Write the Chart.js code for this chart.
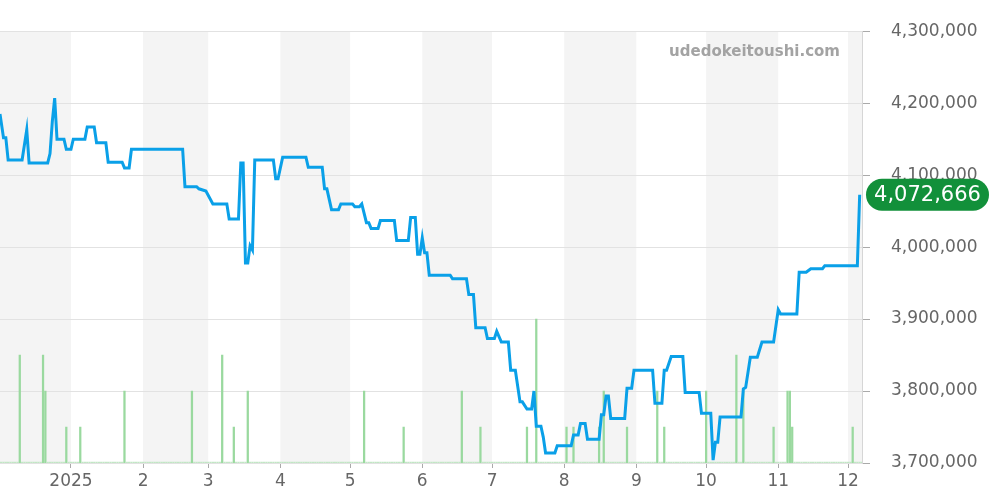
<!DOCTYPE html>
<html>
<head>
<meta charset="utf-8">
<script src="https://cdn.jsdelivr.net/npm/chart.js@4.4.1/dist/chart.umd.min.js"></script>
<style>
  html, body { margin: 0; padding: 0; background: #fff; }
  #wrap { width: 1000px; height: 500px; position: relative; }
</style>
</head>
<body>
<div id="wrap"><canvas id="priceChart"></canvas></div>
<script>
// days counted from 2025-01-01 (day 0)
const priceDays = [-30.5, -29, -28, -27, -21, -19, -18, -10, -9, -8, -7, -6, -3, -2, 0, 1, 6, 7, 10, 11, 15, 16, 22, 23, 25, 26,
  48, 49, 54, 55, 58, 61, 67, 68, 72, 73, 74, 75, 76, 77, 78, 79, 87, 88, 89, 91, 101, 102, 108, 109, 110, 112, 115, 116,
  121, 122, 124, 125, 127, 128, 129, 132, 133, 139, 140, 145, 146, 148, 149, 150, 151, 152, 153, 154, 163, 164, 170, 171,
  173, 174, 178, 179, 182, 183, 185, 188, 189, 191, 193, 194, 196, 198, 199, 200, 202, 203, 204, 208, 209, 215, 216, 218,
  219, 221, 222, 227, 228, 229, 230, 231, 232, 238, 239, 241, 242, 250, 251, 254, 255, 256, 258, 263, 264, 270, 271, 275,
  276, 277, 278, 279, 288, 289, 290, 292, 295, 297, 302, 304, 305, 312, 313, 316, 318, 323, 324, 338, 339];
const priceValues = [4185000, 4152000, 4152000, 4121000, 4121000, 4163000, 4117000, 4117000, 4130000, 4175000, 4207000, 4150000,
  4150000, 4136000, 4136000, 4150000, 4150000, 4167000, 4167000, 4145000, 4145000, 4118000, 4118000, 4110000, 4110000, 4136000,
  4136000, 4084000, 4084000, 4081000, 4078000, 4060000, 4060000, 4039000, 4039000, 4117000, 4117000, 3978000, 3978000, 4002000,
  3996000, 4121000, 4121000, 4095000, 4095000, 4125000, 4125000, 4111000, 4111000, 4081000, 4081000, 4052000, 4052000, 4060000,
  4060000, 4056000, 4056000, 4060000, 4034000, 4034000, 4026000, 4026000, 4037000, 4037000, 4009000, 4009000, 4041000, 4041000,
  3990000, 3990000, 4013000, 3992000, 3992000, 3961000, 3961000, 3956000, 3956000, 3934000, 3934000, 3888000, 3888000, 3873000,
  3873000, 3883000, 3868000, 3868000, 3829000, 3829000, 3785000, 3785000, 3775000, 3775000, 3800000, 3751000, 3751000, 3736000,
  3714000, 3714000, 3724000, 3724000, 3739000, 3739000, 3755000, 3755000, 3733000, 3733000, 3767000, 3767000, 3793000, 3793000,
  3762000, 3762000, 3804000, 3804000, 3829000, 3829000, 3783000, 3783000, 3829000, 3829000, 3848000, 3848000, 3798000, 3798000,
  3769000, 3769000, 3704000, 3729000, 3729000, 3764000, 3764000, 3803000, 3805000, 3847000, 3847000, 3868000, 3868000, 3913000,
  3907000, 3907000, 3965000, 3965000, 3970000, 3970000, 3974000, 3974000, 4072666];

// trade counts (sparse)
const volDays = [-22, -12, -11, -2, 4, 23, 52, 65, 70, 76, 126, 143, 168, 176, 196, 200, 213, 216, 227, 229, 239, 252, 255,
  273, 286, 289, 302, 308, 309, 310, 336];
const volCounts = [3, 3, 2, 1, 1, 2, 2, 3, 1, 2, 2, 1, 2, 1, 1, 4, 1, 1, 1, 2, 1, 2, 1, 2, 3, 2, 1, 2, 2, 1, 1];

const monthStarts = [-31, 0, 31, 59, 90, 120, 151, 181, 212, 243, 273, 304, 334, 365];
const monthTickDays = [0, 31, 59, 90, 120, 151, 181, 212, 243, 273, 304, 334];
const monthTickLabels = ["2025", "2", "3", "4", "5", "6", "7", "8", "9", "10", "11", "12"];

document.addEventListener("DOMContentLoaded", () => {
  const FONT = "'DejaVu Sans', sans-serif";

  const pricePoints = priceDays.map((d, i) => ({ x: d, y: priceValues[i] }));
  const volPoints = [];
  for (let d = -30; d <= 340; d++) {
    const k = volDays.indexOf(d);
    volPoints.push({ x: d, y: k >= 0 ? volCounts[k] : 0 });
  }
  const lastPrice = priceValues[priceValues.length - 1];

  // alternating month shading behind everything
  const monthBands = {
    id: "monthBands",
    beforeDraw(chart) {
      const { ctx, chartArea, scales } = chart;
      ctx.save();
      ctx.fillStyle = "#f4f4f4";
      for (let i = 0; i < monthStarts.length - 1; i += 2) {
        let x1 = Math.max(scales.x.getPixelForValue(monthStarts[i]), chartArea.left);
        let x2 = Math.min(scales.x.getPixelForValue(monthStarts[i + 1]), chartArea.right);
        if (x2 > x1) ctx.fillRect(x1, chartArea.top, x2 - x1, chartArea.bottom - chartArea.top);
      }
      ctx.restore();
    }
  };

  // watermark + last price badge
  const overlay = {
    id: "overlay",
    afterDraw(chart) {
      const { ctx, chartArea, scales } = chart;
      ctx.save();
      ctx.font = "bold 15px " + FONT;
      ctx.fillStyle = "#a3a3a3";
      ctx.textAlign = "right";
      ctx.textBaseline = "middle";
      ctx.fillText("udedokeitoushi.com", 840, 52);

      const y = scales.y.getPixelForValue(lastPrice);
      const x = chartArea.right + 4, w = 123, h = 32, r = 16;
      ctx.fillStyle = "#12903a";
      ctx.beginPath();
      ctx.roundRect(x, y - h / 2, w, h, r);
      ctx.fill();
      ctx.font = "21px " + FONT;
      ctx.fillStyle = "#fff";
      ctx.textAlign = "center";
      ctx.fillText(lastPrice.toLocaleString("en-US"), x + w / 2, y + 1);
      ctx.restore();
    }
  };

  const chartConfig = {
    data: {
      datasets: [{
        type: "line",
        data: pricePoints,
        borderColor: "#0aa0e8",
        borderWidth: 3,
        pointRadius: 0,
        tension: 0,
        yAxisID: "y",
        order: 1
      }, {
        type: "bar",
        data: volPoints,
        // zero days show as a faint dotted base
        backgroundColor: (c) => (c.raw && c.raw.y > 0 ? "#9ad99f" : "#c2e6c5"),
        barThickness: 1.6,
        minBarLength: 1,
        yAxisID: "vol",
        order: 2
      }]
    },
    options: {
      responsive: true,
      maintainAspectRatio: false,
      animation: false,
      layout: { padding: { top: 30, left: 0, right: 0, bottom: 0 } },
      scales: {
        x: {
          type: "linear",
          min: -30.5,
          max: 340,
          offset: false,
          afterBuildTicks: (axis) => { axis.ticks = monthTickDays.map(v => ({ value: v })); },
          afterFit: (axis) => { axis.height = 37; },
          ticks: {
            callback: (v) => monthTickLabels[monthTickDays.indexOf(v)],
            color: "#666",
            font: { family: FONT, size: 17 },
            padding: 3,
            maxRotation: 0,
            autoSkip: false
          },
          grid: { offset: false, drawOnChartArea: false, tickLength: 5, color: "#aaa" },
          border: { display: false }
        },
        y: {
          position: "right",
          min: 3700000,
          max: 4300000,
          afterFit: (axis) => { axis.width = 138; },
          ticks: {
            stepSize: 100000,
            callback: (v) => v.toLocaleString("en-US"),
            color: "#666",
            font: { family: FONT, size: 17 },
            padding: 21
          },
          grid: { color: "#e2e2e2", tickColor: "#aaa", tickLength: 8 },
          border: { display: true, color: "#d6d6d6" }
        },
        vol: {
          display: false,
          min: 0,
          max: 12
        }
      },
      plugins: {
        legend: { display: false },
        tooltip: { enabled: false }
      }
    },
    plugins: [monthBands, overlay]
  };

  const ctx = document.getElementById("priceChart").getContext("2d");
  new Chart(ctx, chartConfig);
});
</script>
</body>
</html>
